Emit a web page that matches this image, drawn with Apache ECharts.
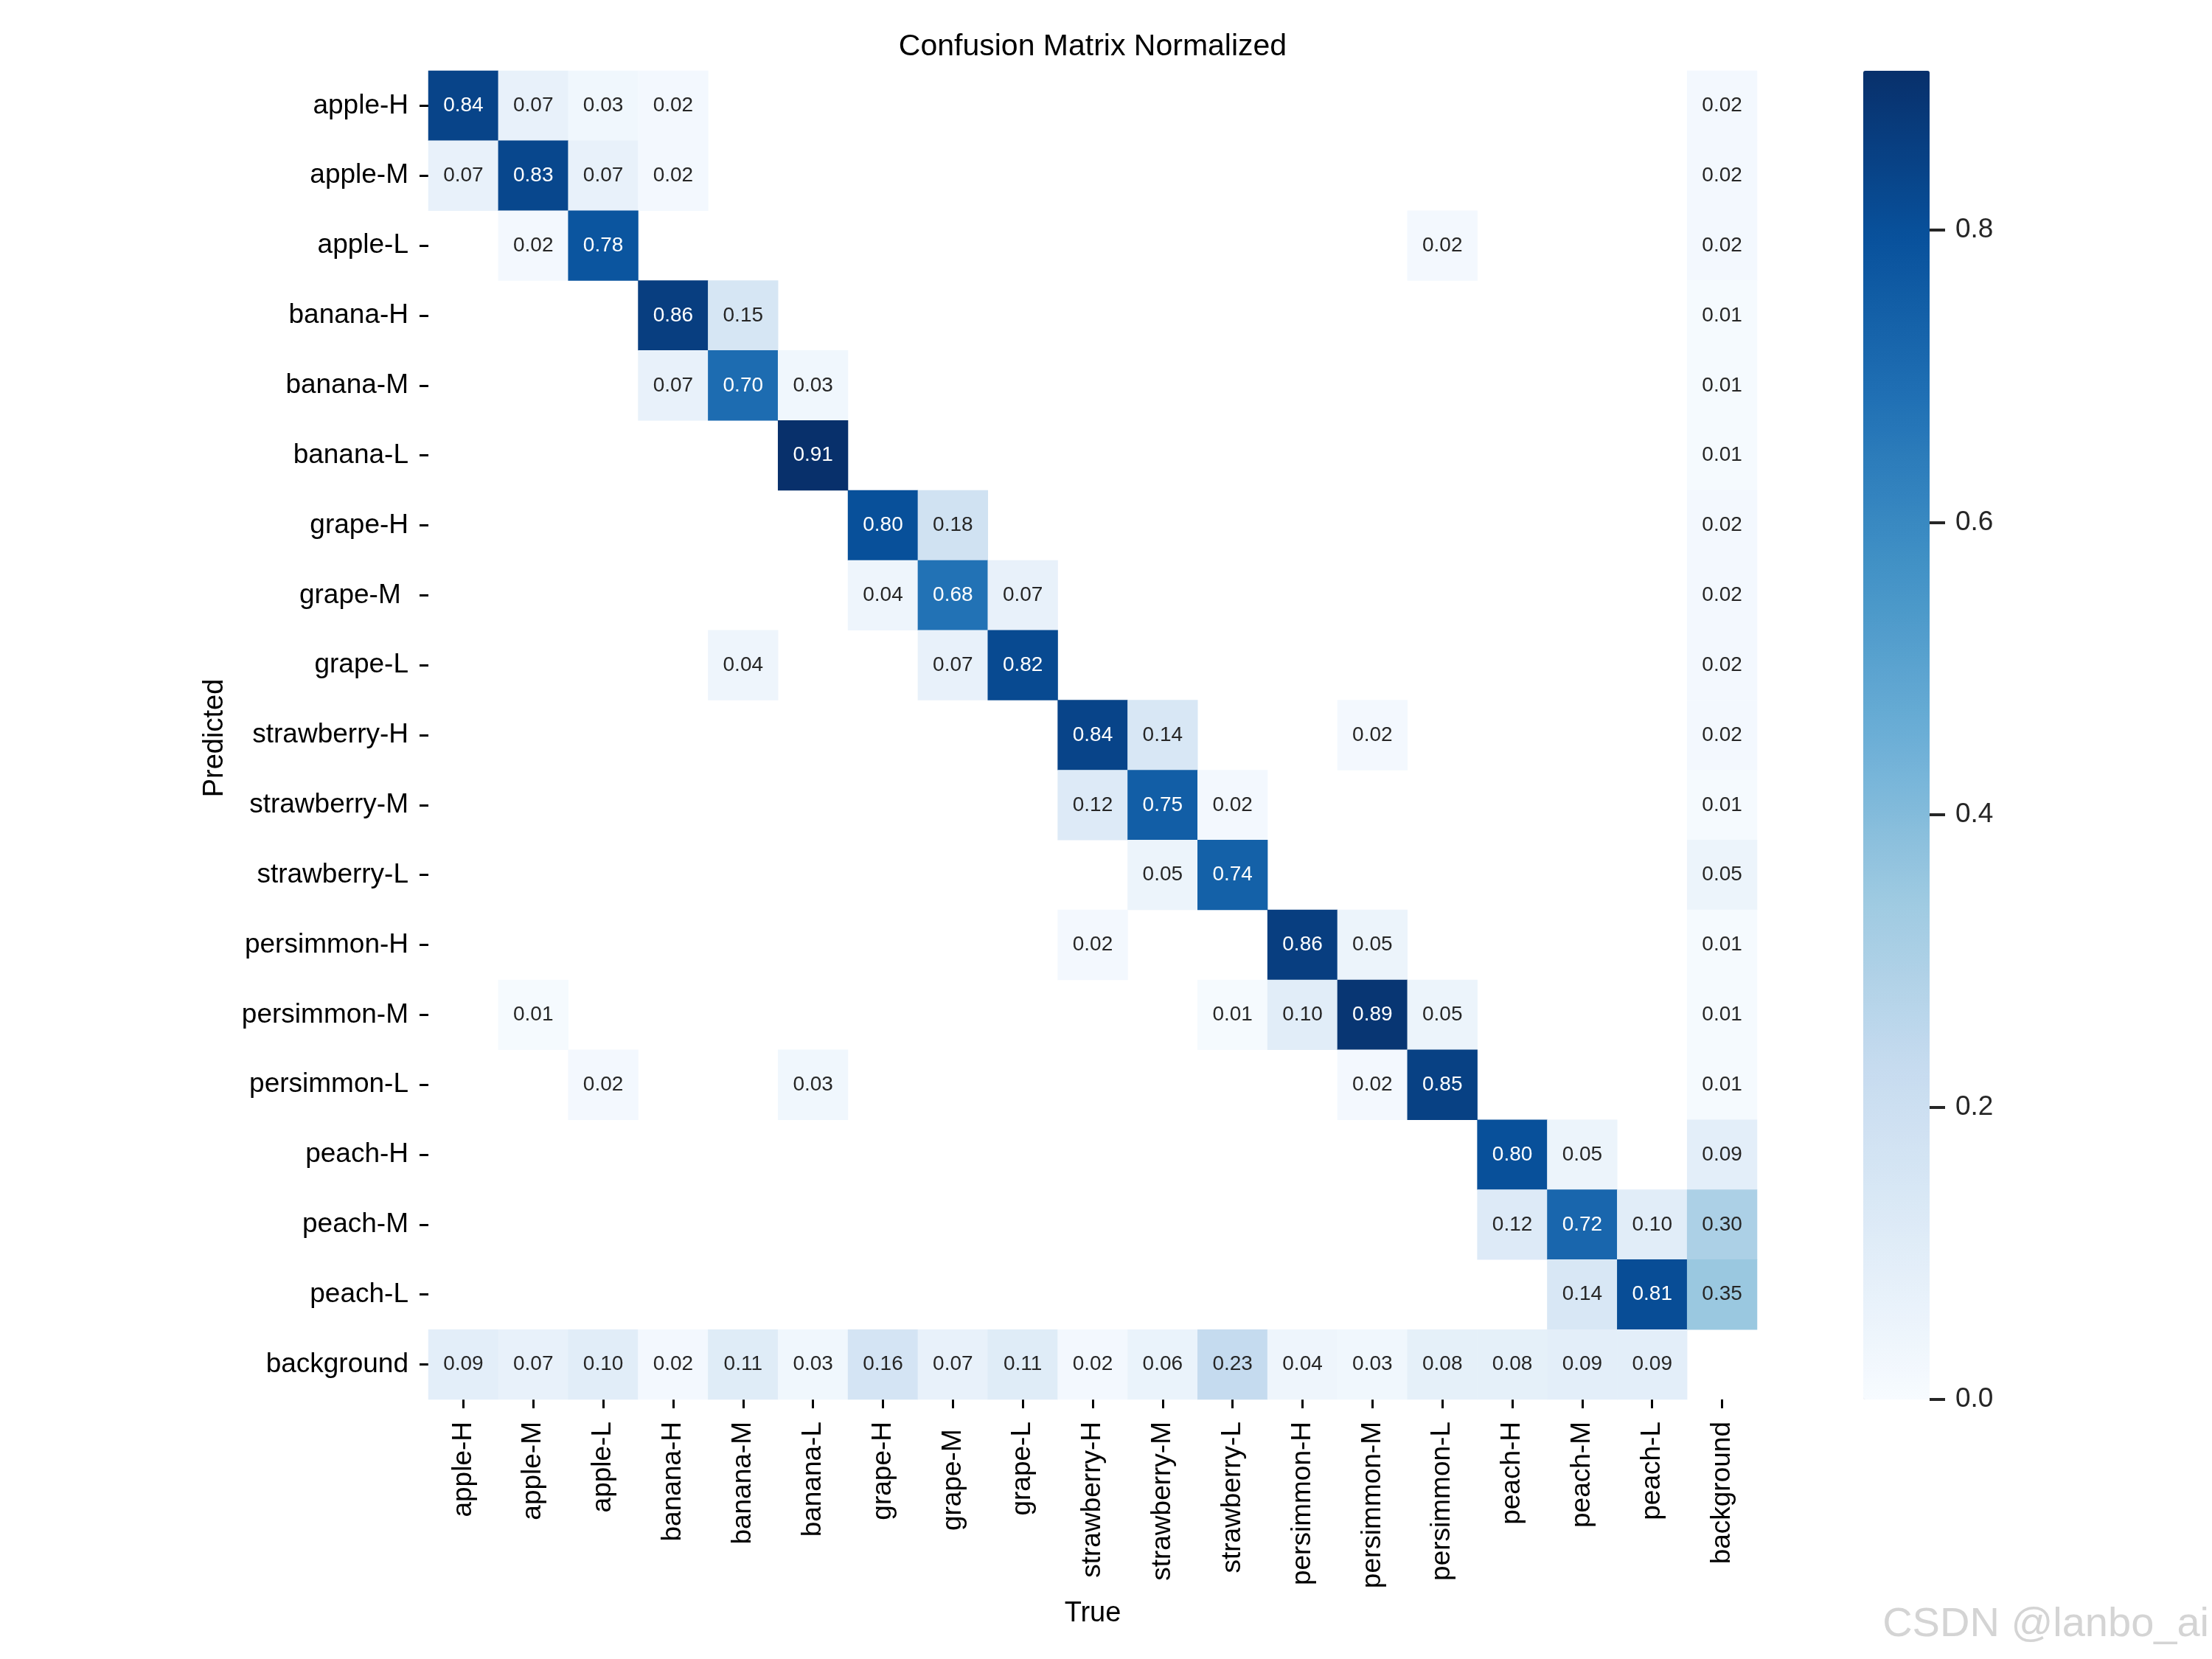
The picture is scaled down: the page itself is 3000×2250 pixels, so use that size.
<!DOCTYPE html>
<html>
<head>
<meta charset="utf-8">
<script src="https://cdn.jsdelivr.net/npm/echarts@6/dist/echarts.min.js"></script>
<style>
  html, body { margin: 0; padding: 0; background: #fff; }
  #chart { width: 3000px; height: 2250px; }
</style>
</head>
<body>
<div id="chart"></div>
<script>
// class names (same order on both axes)
const classes = ["apple-H", "apple-M", "apple-L", "banana-H", "banana-M", "banana-L",
  "grape-H", "grape-M ", "grape-L", "strawberry-H", "strawberry-M", "strawberry-L",
  "persimmon-H", "persimmon-M", "persimmon-L", "peach-H", "peach-M", "peach-L", "background"];

const n = null;
// one array per predicted row, columns = true class
const rowAppleH      = [0.84, 0.07, 0.03, 0.02, n, n, n, n, n, n, n, n, n, n, n, n, n, n, 0.02];
const rowAppleM      = [0.07, 0.83, 0.07, 0.02, n, n, n, n, n, n, n, n, n, n, n, n, n, n, 0.02];
const rowAppleL      = [n, 0.02, 0.78, n, n, n, n, n, n, n, n, n, n, n, 0.02, n, n, n, 0.02];
const rowBananaH     = [n, n, n, 0.86, 0.15, n, n, n, n, n, n, n, n, n, n, n, n, n, 0.01];
const rowBananaM     = [n, n, n, 0.07, 0.70, 0.03, n, n, n, n, n, n, n, n, n, n, n, n, 0.01];
const rowBananaL     = [n, n, n, n, n, 0.91, n, n, n, n, n, n, n, n, n, n, n, n, 0.01];
const rowGrapeH      = [n, n, n, n, n, n, 0.80, 0.18, n, n, n, n, n, n, n, n, n, n, 0.02];
const rowGrapeM      = [n, n, n, n, n, n, 0.04, 0.68, 0.07, n, n, n, n, n, n, n, n, n, 0.02];
const rowGrapeL      = [n, n, n, n, 0.04, n, n, 0.07, 0.82, n, n, n, n, n, n, n, n, n, 0.02];
const rowStrawH      = [n, n, n, n, n, n, n, n, n, 0.84, 0.14, n, n, 0.02, n, n, n, n, 0.02];
const rowStrawM      = [n, n, n, n, n, n, n, n, n, 0.12, 0.75, 0.02, n, n, n, n, n, n, 0.01];
const rowStrawL      = [n, n, n, n, n, n, n, n, n, n, 0.05, 0.74, n, n, n, n, n, n, 0.05];
const rowPersimH     = [n, n, n, n, n, n, n, n, n, 0.02, n, n, 0.86, 0.05, n, n, n, n, 0.01];
const rowPersimM     = [n, 0.01, n, n, n, n, n, n, n, n, n, 0.01, 0.10, 0.89, 0.05, n, n, n, 0.01];
const rowPersimL     = [n, n, 0.02, n, n, 0.03, n, n, n, n, n, n, n, 0.02, 0.85, n, n, n, 0.01];
const rowPeachH      = [n, n, n, n, n, n, n, n, n, n, n, n, n, n, n, 0.80, 0.05, n, 0.09];
const rowPeachM      = [n, n, n, n, n, n, n, n, n, n, n, n, n, n, n, 0.12, 0.72, 0.10, 0.30];
const rowPeachL      = [n, n, n, n, n, n, n, n, n, n, n, n, n, n, n, n, 0.14, 0.81, 0.35];
const rowBackground  = [0.09, 0.07, 0.10, 0.02, 0.11, 0.03, 0.16, 0.07, 0.11, 0.02, 0.06, 0.23, 0.04, 0.03, 0.08, 0.08, 0.09, 0.09, n];

const rows = [rowAppleH, rowAppleM, rowAppleL, rowBananaH, rowBananaM, rowBananaL,
  rowGrapeH, rowGrapeM, rowGrapeL, rowStrawH, rowStrawM, rowStrawL,
  rowPersimH, rowPersimM, rowPersimL, rowPeachH, rowPeachM, rowPeachL, rowBackground];

// colour bar
const cbarMax = 0.909;
const cbarTicks = [0, 0.2, 0.4, 0.6, 0.8];
const blues = ["#f7fbff", "#deebf7", "#c6dbef", "#9ecae1", "#6baed6", "#4292c6", "#2171b5", "#08519c", "#08306b"];

const FONT = "'Liberation Sans', Arial, sans-serif";

const heatData = [];
rows.forEach((row, r) => {
  row.forEach((v, c) => {
    if (v === null) return;
    heatData.push({ value: [c, r, v], label: { color: v > 0.5 ? "#ffffff" : "#262626" } });
  });
});

const chart = echarts.init(document.getElementById("chart"));

const option = {
  backgroundColor: "#ffffff",
  animation: false,
  grid: [
    { left: 581, top: 96, width: 1802, height: 1802 },
    { left: 2527, top: 96, width: 90, height: 1802 }
  ],
  xAxis: [
    {
      type: "category", gridIndex: 0, data: classes, position: "bottom",
      axisLine: { show: false },
      axisTick: { show: true, alignWithLabel: true, interval: 0, length: 12, lineStyle: { color: "#000", width: 3 } },
      axisLabel: { interval: 0, rotate: 90, margin: 30, fontSize: 37, color: "#000", fontFamily: FONT },
      splitLine: { show: false }
    },
    { type: "category", gridIndex: 1, data: [""], show: false }
  ],
  yAxis: [
    {
      type: "category", gridIndex: 0, data: classes, inverse: true,
      axisLine: { show: false },
      axisTick: { show: true, alignWithLabel: true, interval: 0, length: 12, lineStyle: { color: "#000", width: 3 } },
      axisLabel: { interval: 0, margin: 27, fontSize: 37, color: "#000", fontFamily: FONT },
      splitLine: { show: false }
    },
    {
      type: "value", gridIndex: 1, position: "right", min: 0, max: cbarMax,
      axisLine: { show: false, onZero: false },
      splitLine: { show: false },
      axisTick: { show: true, customValues: cbarTicks, length: 21, lineStyle: { color: "#262626", width: 4 } },
      axisLabel: {
        customValues: cbarTicks, margin: 35, fontSize: 37, color: "#262626", fontFamily: FONT,
        formatter: v => v.toFixed(1)
      },
      z: 10
    }
  ],
  visualMap: {
    type: "continuous",
    seriesIndex: 0,
    min: 0,
    max: cbarMax,
    calculable: false,
    hoverLink: false,
    orient: "vertical",
    left: 2527,
    top: 96,
    itemWidth: 90,
    itemHeight: 1802,
    padding: 0,
    text: null,
    showLabel: false,
    inRange: { color: blues }
  },
  graphic: [
    {
      type: "text", x: 1482, y: 64,
      style: { text: "Confusion Matrix Normalized", font: "41px " + FONT, fill: "#000", textAlign: "center", textVerticalAlign: "middle" }
    },
    {
      type: "text", x: 1482, y: 2189,
      style: { text: "True", font: "38px " + FONT, fill: "#000", textAlign: "center", textVerticalAlign: "middle" }
    },
    {
      type: "text", x: 292, y: 1001, rotation: Math.PI / 2,
      style: { text: "Predicted", font: "38px " + FONT, fill: "#000", textAlign: "center", textVerticalAlign: "middle" }
    },
    {
      type: "text", x: 2996, y: 2232,
      style: { text: "CSDN @lanbo_ai", font: "56px " + FONT, fill: "#d4d4d4", textAlign: "right", textVerticalAlign: "bottom" }
    }
  ],
  series: [{
    type: "heatmap",
    xAxisIndex: 0,
    yAxisIndex: 0,
    data: heatData,
    label: {
      show: true,
      fontSize: 28,
      fontFamily: FONT,
      formatter: p => p.value[2].toFixed(2)
    },
    emphasis: { disabled: true }
  }]
};

chart.setOption(option);
</script>
</body>
</html>
